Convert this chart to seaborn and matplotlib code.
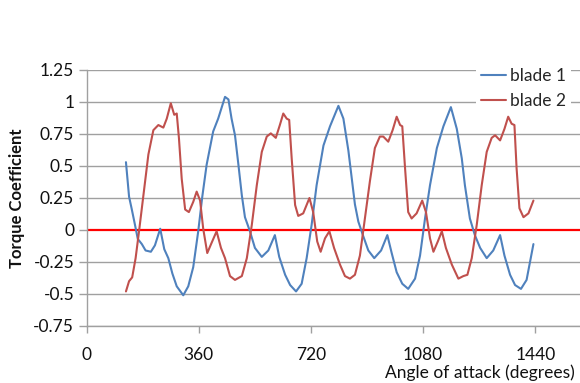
import numpy as np
import pandas as pd
import matplotlib
matplotlib.use("Agg")
import matplotlib.pyplot as plt
import seaborn as sns
from matplotlib.lines import Line2D

# ---- data ----
blade1_angle = [126, 136, 144, 155, 164, 177, 189, 206, 219, 236, 249, 262, 275, 289, 310, 326, 342, 358,
                371, 385, 406, 422, 444, 455, 465, 476, 487, 498, 508, 524, 540, 562, 583, 604, 618, 637,
                653, 672, 690, 706, 722, 738, 760, 781, 808, 824, 840, 861, 872, 888, 904, 923, 945, 965,
                979, 995, 1013, 1032, 1054, 1070, 1086, 1102, 1124, 1145, 1169, 1188, 1204, 1214, 1230,
                1246, 1263, 1284, 1305, 1327, 1341, 1359, 1375, 1394, 1412, 1434]
blade1_torque = [0.53, 0.26, 0.17, 0.04, -0.07, -0.11, -0.16, -0.17, -0.12, 0.01, -0.15, -0.22, -0.34, -0.44,
                 -0.51, -0.44, -0.29, -0.01, 0.26, 0.51, 0.77, 0.87, 1.04, 1.02, 0.87, 0.74, 0.51, 0.27, 0.10,
                 -0.01, -0.14, -0.21, -0.16, -0.04, -0.21, -0.35, -0.43, -0.48, -0.42, -0.22, 0.04, 0.35,
                 0.66, 0.81, 0.97, 0.87, 0.62, 0.20, 0.065, -0.05, -0.16, -0.22, -0.16, -0.04, -0.18, -0.33,
                 -0.42, -0.46, -0.38, -0.20, 0.09, 0.35, 0.64, 0.81, 0.96, 0.79, 0.56, 0.35, 0.09, -0.04,
                 -0.14, -0.22, -0.16, -0.04, -0.20, -0.35, -0.43, -0.46, -0.39, -0.11]

blade2_angle = [126, 136, 146, 157, 168, 182, 198, 214, 230, 246, 257, 270, 281, 289, 296, 305, 316, 328,
                342, 353, 364, 374, 387, 401, 417, 431, 444, 460, 476, 498, 514, 530, 546, 562, 578, 591,
                607, 620, 631, 642, 650, 658, 669, 679, 695, 715, 727, 740, 751, 765, 779, 794, 813, 829,
                845, 861, 877, 893, 909, 925, 941, 952, 968, 982, 995, 1006, 1013, 1022, 1032, 1043, 1059,
                1077, 1089, 1102, 1113, 1127, 1140, 1153, 1172, 1193, 1209, 1222, 1236, 1252, 1268, 1284,
                1300, 1311, 1327, 1341, 1353, 1364, 1373, 1380, 1389, 1402, 1418, 1434]
blade2_torque = [-0.48, -0.40, -0.37, -0.22, -0.01, 0.27, 0.59, 0.78, 0.82, 0.80, 0.87, 0.99, 0.90, 0.91,
                 0.72, 0.40, 0.16, 0.14, 0.22, 0.30, 0.23, 0.01, -0.18, -0.10, -0.01, -0.14, -0.22, -0.36,
                 -0.39, -0.36, -0.22, 0.04, 0.35, 0.61, 0.73, 0.755, 0.72, 0.82, 0.91, 0.87, 0.86, 0.56,
                 0.195, 0.11, 0.13, 0.25, 0.14, -0.09, -0.17, -0.065, -0.01, -0.14, -0.27, -0.36, -0.38,
                 -0.35, -0.20, 0.09, 0.38, 0.64, 0.73, 0.73, 0.69, 0.78, 0.885, 0.82, 0.81, 0.48, 0.14,
                 0.09, 0.13, 0.23, 0.14, -0.065, -0.17, -0.09, -0.01, -0.14, -0.27, -0.38, -0.36, -0.35,
                 -0.22, 0.04, 0.35, 0.61, 0.72, 0.74, 0.70, 0.79, 0.885, 0.83, 0.82, 0.48, 0.17, 0.10,
                 0.13, 0.23]

series_names = ["blade 1", "blade 2"]
x_ticks = [0, 360, 720, 1080, 1440]
y_ticks = [-0.75, -0.5, -0.25, 0, 0.25, 0.5, 0.75, 1, 1.25]
y_tick_labels = ["-0.75", "-0.5", "-0.25", "0", "0.25", "0.5", "0.75", "1", "1.25"]
x_title = "Angle of attack (degrees)"
y_title = "Torque Coefficient"

df = pd.concat([
    pd.DataFrame({"angle": blade1_angle, "torque": blade1_torque, "series": series_names[0]}),
    pd.DataFrame({"angle": blade2_angle, "torque": blade2_torque, "series": series_names[1]}),
], ignore_index=True)

sns.set_theme(style="white")
plt.rcParams["font.family"] = ["Lato", "DejaVu Sans"]

fig = plt.figure(figsize=(5.8, 3.83), dpi=100)
ax = fig.add_axes([86.7 / 580, (383 - 326) / 383, (580 - 86.7) / 580, 256 / 383])

grid_c = "#A0A0A0"
text_c = "#111111"
fs = 12.5
for yv in y_ticks:
    if yv != 0:
        ax.axhline(yv, color=grid_c, lw=1.0, zorder=0)

palette = {"blade 1": "#4F81BD", "blade 2": "#C0504D"}
sns.lineplot(data=df, x="angle", y="torque", hue="series", palette=palette, sort=False,
             estimator=None, lw=1.5, ax=ax, legend=False, zorder=3)
ax.axhline(0, color="#FF0000", lw=1.6, zorder=2)

ax.set_xlim(0, (580 - 86.7) / 0.31153)
ax.set_ylim(-0.75, 1.25)
ax.set_xticks(x_ticks)
ax.set_xticklabels([str(t) for t in x_ticks])
ax.set_yticks(y_ticks)
ax.set_yticklabels(y_tick_labels)

for s in ["top", "right"]:
    ax.spines[s].set_visible(False)
for s in ["left", "bottom"]:
    ax.spines[s].set_color(grid_c)
    ax.spines[s].set_linewidth(1.0)

ax.tick_params(axis="y", direction="out", length=6, width=1, color=grid_c, pad=3,
               labelsize=fs, labelcolor=text_c, left=True)
ax.tick_params(axis="x", direction="out", length=5, width=1, color=grid_c, pad=10,
               labelsize=fs, labelcolor=text_c, bottom=True)

ax.set_xlabel("")
ax.set_ylabel("")
fig.text(575 / 580, 1 - 373 / 383, x_title, ha="right", va="center", fontsize=fs, color=text_c)
fig.text(17 / 580, 1 - 198 / 383, y_title, ha="center", va="center", rotation=90,
         fontsize=12, fontweight="bold", color=text_c)

handles = [Line2D([], [], color=palette[n], lw=1.5) for n in series_names]
leg = ax.legend(handles, series_names, loc="upper left", bbox_to_anchor=(476 / 580, 1 - 63 / 383),
                bbox_transform=fig.transFigure, frameon=True, fontsize=fs, handlelength=1.4,
                handletextpad=0.25, labelspacing=0.5, borderpad=0.3, borderaxespad=0)
leg.get_frame().set_facecolor("white")
leg.get_frame().set_edgecolor("none")
leg.get_frame().set_alpha(1)
leg.set_zorder(10)

fig.savefig("out.png", dpi=100)
